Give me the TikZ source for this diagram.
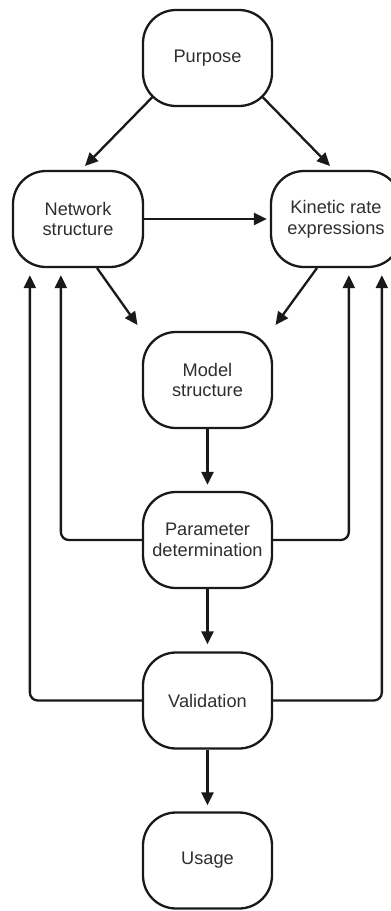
\documentclass[tikz,border=0pt]{standalone}
\usepackage{fontspec}
\setmainfont{Liberation Sans}
\usetikzlibrary{arrows.meta,calc}
\begin{document}
\begin{tikzpicture}[x=1pt,y=-1pt,
  stage/.style={draw=black!90, line width=2.3pt, rounded corners=33pt,
    minimum width=129pt, minimum height=96pt, inner sep=0pt,
    align=center, text=black!82,
    font=\fontsize{18.2}{20.9}\selectfont},
  flow/.style={draw=black!90, line width=2.3pt,
    -{Triangle[length=13pt,width=12pt]}},
  back/.style={flow, rounded corners=8pt}]
\useasboundingbox (0,0) rectangle (391,911);

% process stages
\node[stage] (purpose) at (207.5,58)  {Purpose};
\node[stage, minimum width=130pt] (network) at (78,219)  {Network\\structure};
\node[stage, minimum width=130pt] (kinetic) at (336,219) {Kinetic rate\\expressions};
\node[stage] (model)   at (207.5,380)   {Model\\structure};
\node[stage] (param)   at (207.5,540)   {Parameter\\determination};
\node[stage] (valid)   at (207.5,700.5) {Validation};
\node[stage] (usage)   at (207.5,860.5) {Usage};

% forward flow
\draw[flow] ($(purpose.center)+(-55,39)$) -- ($(network.center)+(7,-53)$);
\draw[flow] ($(purpose.center)+(55,39)$)  -- ($(kinetic.center)+(-6,-53)$);
\draw[flow] (network.east) -- ($(kinetic.west)+(-3,0)$);
\draw[flow] ($(network.center)+(19,49)$) -- ($(model.center)+(-70,-55)$);
\draw[flow] ($(kinetic.center)+(-19,49)$) -- ($(model.center)+(68,-55)$);
\draw[flow] (model.south) -- ($(param.north)+(0,-6)$);
\draw[flow] (param.south) -- ($(valid.north)+(0,-7)$);
\draw[flow] (valid.south) -- ($(usage.north)+(0,-6)$);

% feedback loops
\coordinate (nIn) at ($(network.south west)+(49,7)$);
\coordinate (nOut) at ($(network.south west)+(18,7)$);
\coordinate (kIn) at ($(kinetic.south west)+(79,7)$);
\coordinate (kOut) at ($(kinetic.south west)+(112,7)$);
\draw[back] (param.west) -| (nIn);
\draw[back] (param.east) -| (kIn);
\draw[back] (valid.west) -| (nOut);
\draw[back] (valid.east) -| (kOut);
\end{tikzpicture}
\end{document}
